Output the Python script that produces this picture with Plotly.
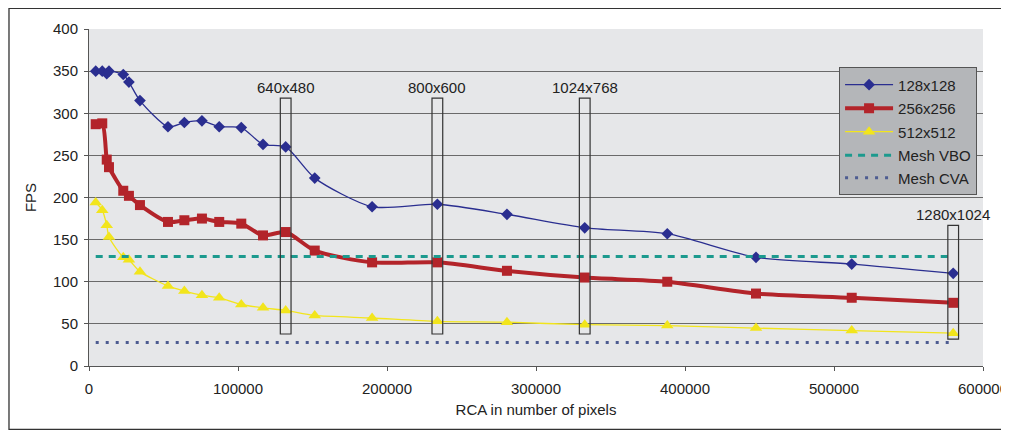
import plotly.graph_objects as go

# ---------------- data ----------------
rca_pixels = [4500, 8900, 11900, 13400, 23000, 26800, 34200, 53000, 64000, 75800,
              87400, 102200, 116800, 132000, 151500, 190000, 233800, 280500,
              332700, 388100, 447650, 511900, 580000]
fps_128 = [350, 350, 347, 350, 346, 337, 315, 284, 289, 291, 284, 283, 263, 260,
           223, 189, 192, 180, 164, 157, 129, 121, 110]
fps_256 = [287, 288, 245, 236, 208, 202, 191, 171, 173, 175, 171, 169, 155, 159,
           137, 123, 123, 113, 105, 100, 86, 81, 75]
fps_512 = [194, 185, 167, 153, 129, 126, 112, 95, 89, 84, 81, 73, 69, 66, 60, 57,
           53, 52, 49, 48, 45, 42, 39]
mesh_vbo = [130, 130, 130, 130, 130, 130, 130, 130, 130, 130, 130, 130, 130, 130,
            130, 130, 130, 130, 130, 130, 130, 130, 130]
mesh_cva = [28, 28, 28, 28, 28, 28, 28, 28, 28, 28, 28, 28, 28, 28, 28, 28, 28,
            28, 28, 28, 28, 28, 28]

res_labels = ["640x480", "800x600", "1024x768", "1280x1024"]
res_rca = [132000, 233800, 332700, 580000]

x_ticks = [0, 100000, 200000, 300000, 400000, 500000, 600000]
y_ticks = [0, 50, 100, 150, 200, 250, 300, 350, 400]

# ---------------- style ----------------
FONT = "Liberation Sans, Arial, sans-serif"
TXT = "#222222"
box_half = 3600
box_top = [318, 318, 318, 167]
box_bottom = [38, 38, 38, 32]

fig = go.Figure()

fig.add_trace(go.Scatter(
    x=rca_pixels, y=fps_128, name="128x128", mode="lines+markers",
    line=dict(color="#2a2e90", width=1.3, shape="spline", smoothing=0.7),
    marker=dict(symbol="diamond", size=9, color="#2a2e90"),
    legendgroup="a"))
fig.add_trace(go.Scatter(
    x=rca_pixels, y=fps_256, name="256x256", mode="lines+markers",
    line=dict(color="#b3242a", width=4, shape="spline", smoothing=0.7),
    marker=dict(symbol="square", size=10, color="#b3242a"),
    legendgroup="b"))
fig.add_trace(go.Scatter(
    x=rca_pixels, y=fps_512, name="512x512", mode="lines+markers",
    line=dict(color="#f2e51c", width=1.3, shape="spline", smoothing=0.7),
    marker=dict(symbol="triangle-up", size=11, color="#f2e51c"),
    legendgroup="c"))
fig.add_trace(go.Scatter(
    x=rca_pixels, y=mesh_vbo, name="Mesh VBO", mode="lines",
    line=dict(color="#1c9a8e", width=3, dash="7px,6px"),
    legendgroup="d"))
fig.add_trace(go.Scatter(
    x=rca_pixels, y=mesh_cva, name="Mesh CVA", mode="lines",
    line=dict(color="#4d5c91", width=3, dash="3px,7px"),
    legendgroup="d"))

shapes = []
annotations = []
for lab, xc, top, bot in zip(res_labels, res_rca, box_top, box_bottom):
    shapes.append(dict(type="rect", xref="x", yref="y",
                       x0=xc - box_half, x1=xc + box_half, y0=bot, y1=top,
                       line=dict(color="#333333", width=1.2),
                       fillcolor="rgba(0,0,0,0)", layer="above"))
    annotations.append(dict(x=xc, y=top, xref="x", yref="y", text=lab,
                            showarrow=False, yanchor="bottom", yshift=0,
                            font=dict(family=FONT, size=15, color=TXT)))

# outer frame (figure sits 8px inside the page because of the body margin)
shapes.append(dict(type="rect", xref="paper", yref="paper",
                   x0=-0.0895, x1=1.1, y0=-0.188, y1=1.0615,
                   line=dict(color="#333333", width=1.3),
                   fillcolor="rgba(0,0,0,0)", layer="below"))

fig.update_layout(
    width=1001, height=427,
    margin=dict(l=81, r=26, t=21, b=69, autoexpand=False),
    paper_bgcolor="white",
    plot_bgcolor="#e6e7e9",
    font=dict(family=FONT, size=15, color=TXT),
    shapes=shapes,
    annotations=annotations,
    legend=dict(x=0.839, y=0.886, xanchor="left", yanchor="top",
                bgcolor="#b4b6b9", bordercolor="#555555", borderwidth=1,
                font=dict(family=FONT, size=15, color=TXT),
                traceorder="grouped", tracegroupgap=1,
                itemwidth=48),
    showlegend=True,
)

fig.update_xaxes(
    range=[0, 600000], tickvals=x_ticks, ticktext=[str(v) for v in x_ticks],
    showgrid=False, zeroline=False, automargin=False,
    showline=True, linecolor="#555555", linewidth=1,
    ticks="outside", ticklen=4, tickcolor="#555555", ticklabelstandoff=5,
    title=dict(text="RCA in number of pixels", standoff=8,
               font=dict(family=FONT, size=15, color=TXT)))
fig.update_yaxes(
    range=[0, 400], tickvals=y_ticks,
    showgrid=True, gridcolor="#6a6a6a", gridwidth=1,
    zeroline=False, automargin=False,
    showline=True, linecolor="#555555", linewidth=1, mirror=False,
    ticks="outside", ticklen=4, tickcolor="#555555", ticklabelstandoff=3,
    title=dict(text="FPS", standoff=12,
               font=dict(family=FONT, size=15, color=TXT)))

fig.write_html("out.html")
